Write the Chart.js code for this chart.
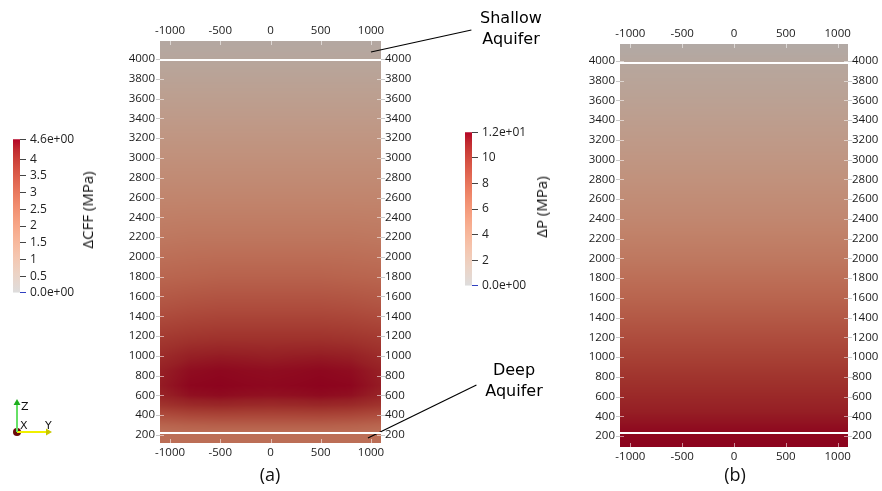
<!DOCTYPE html>
<html>
<head>
<meta charset="utf-8">
<script src="https://cdn.jsdelivr.net/npm/chart.js@4.4.1/dist/chart.umd.min.js"></script>
<style>
  body { margin: 0; background: #fff; }
  #page { position: relative; width: 882px; height: 491px; overflow: hidden; font-family: "Open Sans", sans-serif; }
  .box { position: absolute; }
  .txt { position: absolute; color: #111; white-space: nowrap; }
  .note { position: absolute; width: 120px; text-align: center; font-family: "DejaVu Sans", sans-serif; font-size: 16px; line-height: 21px; color: #000; }
  .vert { position: absolute; font-size: 15px; color: #111; white-space: nowrap; transform: translate(-50%, -50%) rotate(-90deg); }
</style>
</head>
<body>
<div id="page">
  <div class="box" style="left:120px;top:0;width:362px;height:467px"><canvas id="panelA"></canvas></div>
  <div class="box" style="left:580px;top:14px;width:302px;height:456px"><canvas id="panelB"></canvas></div>
  <div class="box" style="left:0;top:128px;width:120px;height:176px"><canvas id="barA"></canvas></div>
  <div class="box" style="left:452px;top:121px;width:100px;height:176px"><canvas id="barB"></canvas></div>
  <div class="box" style="left:0;top:395px;width:60px;height:45px"><canvas id="triad"></canvas></div>

  <div class="vert" style="left:87px;top:210px">ΔCFF (MPa)</div>
  <div class="vert" style="left:541px;top:207px">ΔP (MPa)</div>
  <div class="note" style="left:451px;top:7px">Shallow<br>Aquifer</div>
  <div class="note" style="left:454px;top:359px">Deep<br>Aquifer</div>
  <div class="txt" style="left:250px;top:464px;width:40px;text-align:center;font-size:18px;line-height:20px">(a)</div>
  <div class="txt" style="left:715px;top:464px;width:40px;text-align:center;font-size:18px;line-height:20px">(b)</div>
</div>

<script>
// eixos (coordenadas do modelo, em metros)
const X_TICKS = [-1000, -500, 0, 500, 1000]
const Y_TICKS = [200, 400, 600, 800, 1000, 1200, 1400, 1600, 1800, 2000,
  2200, 2400, 2600, 2800, 3000, 3200, 3400, 3600, 3800, 4000]
const X_MIN = -1100
const X_MAX = 1100
const Y_RANGE_A = [119, 4182]
const Y_RANGE_B = [89, 4172]

// interfaces dos aquíferos (linhas brancas)
const AQUIFER_A = [3990, 220]
const AQUIFER_B = [3980, 230]

// painel (a): ΔCFF em MPa, linhas = profundidade, colunas = x
const X_A = [-1100, -800, -500, -250, 0, 250, 500, 800, 1100]
const DEPTH_A = [4182, 3990, 3800, 3400, 3000, 2600, 2200, 1800, 1500, 1200,
  1000, 850, 700, 600, 500, 400, 300, 240, 220, 119]
const CFF_A = [
  [0.35, 0.35, 0.35, 0.35, 0.35, 0.35, 0.35, 0.35, 0.35],
  [0.5, 0.5, 0.5, 0.5, 0.5, 0.5, 0.5, 0.5, 0.5],
  [0.7, 0.7, 0.7, 0.7, 0.7, 0.7, 0.7, 0.7, 0.7],
  [1.1, 1.1, 1.1, 1.1, 1.1, 1.1, 1.1, 1.1, 1.1],
  [1.5, 1.5, 1.5, 1.5, 1.5, 1.5, 1.5, 1.5, 1.5],
  [1.9, 1.9, 1.9, 1.9, 1.9, 1.9, 1.9, 1.9, 1.9],
  [2.3, 2.35, 2.35, 2.35, 2.35, 2.35, 2.35, 2.35, 2.3],
  [2.8, 2.85, 2.9, 2.9, 2.9, 2.9, 2.9, 2.85, 2.8],
  [3.25, 3.35, 3.4, 3.4, 3.4, 3.4, 3.4, 3.35, 3.25],
  [3.8, 3.9, 3.95, 3.95, 3.95, 3.95, 3.95, 3.9, 3.8],
  [4.1, 4.3, 4.35, 4.33, 4.3, 4.33, 4.35, 4.3, 4.1],
  [4.3, 4.5, 4.55, 4.52, 4.5, 4.52, 4.55, 4.5, 4.3],
  [4.35, 4.57, 4.6, 4.57, 4.55, 4.57, 4.6, 4.57, 4.35],
  [4.25, 4.47, 4.52, 4.48, 4.46, 4.48, 4.52, 4.47, 4.25],
  [3.95, 4.12, 4.18, 4.14, 4.12, 4.14, 4.18, 4.12, 3.95],
  [3.4, 3.55, 3.6, 3.58, 3.57, 3.58, 3.6, 3.55, 3.4],
  [2.85, 2.95, 3.0, 3.0, 3.0, 3.0, 3.0, 2.95, 2.85],
  [2.6, 2.7, 2.7, 2.7, 2.7, 2.7, 2.7, 2.7, 2.6],
  [2.6, 2.6, 2.6, 2.6, 2.6, 2.6, 2.6, 2.6, 2.6],
  [2.6, 2.6, 2.6, 2.6, 2.6, 2.6, 2.6, 2.6, 2.6],
]

// painel (b): ΔP em MPa, só varia com a profundidade
const DEPTH_B = [4172, 3980, 3600, 3200, 2800, 2400, 2000, 1600, 1200, 800, 400, 230, 89]
const DP_B = [0.6, 1.2, 2.0, 2.9, 3.8, 4.8, 6.0, 7.4, 8.9, 10.3, 11.4, 11.9, 12.0]

// barras de cores
const CFF_MAX = 4.6
const CFF_BAR_TICKS = [0, 0.5, 1, 1.5, 2, 2.5, 3, 3.5, 4, 4.6]
const CFF_BAR_LABELS = ["0.0e+00", "0.5", "1", "1.5", "2", "2.5", "3", "3.5", "4", "4.6e+00"]
const DP_MAX = 12
const DP_BAR_TICKS = [0, 2, 4, 6, 8, 10, 12]
const DP_BAR_LABELS = ["0.0e+00", "2", "4", "6", "8", "10", "1.2e+01"]

// metade quente do mapa "Cool to Warm"
const CMAP_T = [0, 0.0625, 0.125, 0.1875, 0.25, 0.3125, 0.375, 0.4375, 0.5,
  0.5625, 0.625, 0.6875, 0.75, 0.8125, 0.875, 0.9375, 1]
const CMAP_RGB = [[221, 221, 221], [229, 216, 209], [236, 211, 197], [241, 204, 185],
  [245, 196, 173], [247, 187, 160], [247, 177, 148], [247, 166, 135], [244, 154, 123],
  [241, 141, 111], [236, 127, 99], [229, 112, 88], [222, 96, 77], [213, 80, 66],
  [203, 62, 56], [192, 40, 47], [180, 4, 38]]
const SHADE = 0.78 // escurecimento da iluminação da cena 3D

const tickFont = { family: "'Open Sans', sans-serif", size: 11.5 }

function clamp01(v) {
  return Math.max(0, Math.min(1, v))
}

function colorAt(t) {
  t = clamp01(t)
  let i = 0
  while (i < CMAP_T.length - 2 && t > CMAP_T[i + 1]) i++
  const f = (t - CMAP_T[i]) / (CMAP_T[i + 1] - CMAP_T[i])
  const a = CMAP_RGB[i], b = CMAP_RGB[i + 1]
  return [a[0] + (b[0] - a[0]) * f, a[1] + (b[1] - a[1]) * f, a[2] + (b[2] - a[2]) * f]
}

// pinta o campo escalar dentro da área do gráfico, pixel a pixel, via escalas
function fieldPlugin(xs, ys, grid, vmax) {
  return {
    id: "field",
    beforeDatasetsDraw(chart) {
      const area = chart.chartArea
      const sx = chart.scales.x
      const sy = chart.scales.y
      const x0 = Math.round(area.left)
      const y0 = Math.round(area.top)
      const w = Math.round(area.right) - x0
      const h = Math.round(area.bottom) - y0
      const img = chart.ctx.createImageData(w, h)
      for (let j = 0; j < h; j++) {
        const yv = sy.getValueForPixel(y0 + j + 0.5)
        let r = 0
        while (r < ys.length - 2 && yv < ys[r + 1]) r++
        const fy = clamp01((ys[r] - yv) / (ys[r] - ys[r + 1]))
        for (let i = 0; i < w; i++) {
          const xv = sx.getValueForPixel(x0 + i + 0.5)
          let c = 0
          while (c < xs.length - 2 && xv > xs[c + 1]) c++
          const fx = clamp01((xv - xs[c]) / (xs[c + 1] - xs[c]))
          const top = grid[r][c] * (1 - fx) + grid[r][c + 1] * fx
          const bot = grid[r + 1][c] * (1 - fx) + grid[r + 1][c + 1] * fx
          const col = colorAt((top * (1 - fy) + bot * fy) / vmax)
          const k = (j * w + i) * 4
          img.data[k] = col[0] * SHADE
          img.data[k + 1] = col[1] * SHADE
          img.data[k + 2] = col[2] * SHADE
          img.data[k + 3] = 255
        }
      }
      chart.ctx.putImageData(img, x0, y0)
    },
  }
}

// marcas curtas dos ticks nas bordas do domínio
const tickMarks = {
  id: "tickMarks",
  afterDatasetsDraw(chart) {
    const ctx = chart.ctx
    const a = chart.chartArea
    ctx.save()
    ctx.lineWidth = 1
    ctx.strokeStyle = "rgba(255,255,255,0.55)"
    ctx.beginPath()
    chart.scales.x.ticks.forEach((t) => {
      const px = Math.round(chart.scales.x.getPixelForValue(t.value)) + 0.5
      ctx.moveTo(px, a.bottom)
      ctx.lineTo(px, a.bottom - 4)
      ctx.moveTo(px, a.top)
      ctx.lineTo(px, a.top + 4)
    })
    chart.scales.y.ticks.forEach((t) => {
      const py = Math.round(chart.scales.y.getPixelForValue(t.value)) + 0.5
      ctx.moveTo(a.left, py)
      ctx.lineTo(a.left + 4, py)
      ctx.moveTo(a.right, py)
      ctx.lineTo(a.right - 4, py)
    })
    ctx.stroke()
    ctx.strokeStyle = "#c8c8c8"
    ctx.beginPath()
    chart.scales.y.ticks.forEach((t) => {
      const py = Math.round(chart.scales.y.getPixelForValue(t.value)) + 0.5
      ctx.moveTo(a.left - 4, py)
      ctx.lineTo(a.left, py)
      ctx.moveTo(a.right, py)
      ctx.lineTo(a.right + 4, py)
    })
    ctx.stroke()
    ctx.restore()
  },
}

function hLine(y) {
  return {
    data: [{ x: X_MIN, y: y }, { x: X_MAX, y: y }],
    showLine: true,
    borderColor: "#ffffff",
    borderWidth: 2,
    pointRadius: 0,
  }
}

function pointer(x1, y1, x2, y2) {
  return {
    data: [{ x: x1, y: y1 }, { x: x2, y: y2 }],
    showLine: true,
    borderColor: "#000000",
    borderWidth: 1.2,
    pointRadius: 0,
    clip: false,
  }
}

function panelScales(yRange, sizes) {
  const common = {
    type: "linear",
    grid: { display: false, drawTicks: false },
    border: { display: false },
  }
  const xTicks = {
    autoSkip: false,
    maxRotation: 0,
    padding: 3,
    font: tickFont,
    color: "#1a1a1a",
    callback: (v) => String(v),
  }
  const yTicks = { ...xTicks, padding: 5 }
  return {
    x: { ...common, position: "bottom", min: X_MIN, max: X_MAX, ticks: xTicks,
      afterBuildTicks: (s) => { s.ticks = X_TICKS.map((v) => ({ value: v })) },
      afterFit: (s) => { s.height = sizes.bottom } },
    xTop: { ...common, position: "top", min: X_MIN, max: X_MAX, ticks: xTicks,
      afterBuildTicks: (s) => { s.ticks = X_TICKS.map((v) => ({ value: v })) },
      afterFit: (s) => { s.height = sizes.top } },
    y: { ...common, position: "left", min: yRange[0], max: yRange[1], ticks: yTicks,
      afterBuildTicks: (s) => { s.ticks = Y_TICKS.map((v) => ({ value: v })) },
      afterFit: (s) => { s.width = sizes.left } },
    yRight: { ...common, position: "right", min: yRange[0], max: yRange[1],
      ticks: { ...yTicks, padding: 4 },
      afterBuildTicks: (s) => { s.ticks = Y_TICKS.map((v) => ({ value: v })) },
      afterFit: (s) => { s.width = sizes.right } },
  }
}

const baseOptions = {
  animation: false,
  responsive: true,
  maintainAspectRatio: false,
  layout: { padding: 0 },
  plugins: { legend: { display: false }, tooltip: { enabled: false } },
}

// painel (a)
new Chart(document.getElementById("panelA"), {
  type: "scatter",
  data: {
    datasets: [
      hLine(AQUIFER_A[0]),
      hLine(AQUIFER_A[1]),
      pointer(1000, 4071, 2000, 4293),
      pointer(970, 170, 2050, 705),
    ],
  },
  options: {
    ...baseOptions,
    scales: panelScales(Y_RANGE_A, { top: 41, bottom: 24, left: 40, right: 101 }),
  },
  plugins: [fieldPlugin(X_A, DEPTH_A, CFF_A, CFF_MAX), tickMarks],
})

// painel (b)
new Chart(document.getElementById("panelB"), {
  type: "scatter",
  data: {
    datasets: [hLine(AQUIFER_B[0]), hLine(AQUIFER_B[1])],
  },
  options: {
    ...baseOptions,
    scales: panelScales(Y_RANGE_B, { top: 30, bottom: 23, left: 40, right: 34 }),
  },
  plugins: [fieldPlugin([X_MIN, X_MAX], DEPTH_B, DP_B.map((v) => [v, v]), DP_MAX), tickMarks],
})

// barras de cores
function barGradient(chart) {
  const a = chart.chartArea
  if (!a) return null
  const g = chart.ctx.createLinearGradient(0, a.bottom, 0, a.top)
  CMAP_T.forEach((t, i) => {
    const c = CMAP_RGB[i]
    g.addColorStop(t, `rgb(${c[0]},${c[1]},${c[2]})`)
  })
  return g
}

function colorbar(id, vmax, ticks, labels, axisWidth) {
  new Chart(document.getElementById(id), {
    type: "bar",
    data: {
      labels: [""],
      datasets: [{
        data: [[0, vmax]],
        backgroundColor: (c) => barGradient(c.chart),
        barPercentage: 1,
        categoryPercentage: 1,
        borderWidth: 0,
      }],
    },
    options: {
      ...baseOptions,
      layout: { padding: { left: 13, top: 10, bottom: 10, right: 0 } },
      scales: {
        x: { display: false },
        y: {
          position: "right",
          min: 0,
          max: vmax,
          afterBuildTicks: (s) => { s.ticks = ticks.map((v) => ({ value: v })) },
          afterFit: (s) => { s.width = axisWidth },
          grid: {
            drawOnChartArea: false,
            drawTicks: true,
            tickLength: 6,
            color: (c) => (c.tick && c.tick.value === 0 ? "#3040c0" : "#444"),
          },
          border: { display: false },
          ticks: {
            autoSkip: false,
            padding: 4,
            font: { family: "'Open Sans', sans-serif", size: 12 },
            color: "#222",
            callback: (v, i) => labels[i],
          },
        },
      },
    },
  })
}

colorbar("barA", CFF_MAX, CFF_BAR_TICKS, CFF_BAR_LABELS, 100)
colorbar("barB", DP_MAX, DP_BAR_TICKS, DP_BAR_LABELS, 80)

// triedro de orientação
const triadLabels = {
  id: "triadLabels",
  afterDatasetsDraw(chart) {
    const ctx = chart.ctx
    const sx = chart.scales.x
    const sy = chart.scales.y
    ctx.save()
    ctx.fillStyle = "#111"
    ctx.font = "11px 'DejaVu Sans', sans-serif"
    ctx.textBaseline = "middle"
    ctx.fillText("Z", sx.getPixelForValue(0) + 4, sy.getPixelForValue(1) + 4)
    ctx.fillText("X", sx.getPixelForValue(0) + 3, sy.getPixelForValue(0) - 6)
    ctx.fillText("Y", sx.getPixelForValue(1) - 3, sy.getPixelForValue(0) - 6)
    ctx.restore()
  },
}

new Chart(document.getElementById("triad"), {
  type: "scatter",
  data: {
    datasets: [
      { data: [{ x: 0, y: 0 }, { x: 0, y: 1 }], showLine: true, borderColor: "#66e066", borderWidth: 2,
        pointRadius: [0, 4], pointStyle: "triangle", pointBackgroundColor: "#1fae1f", pointBorderWidth: 0, clip: false },
      { data: [{ x: 0, y: 0 }, { x: 1, y: 0 }], showLine: true, borderColor: "#f0f000", borderWidth: 2,
        pointRadius: [0, 4], pointStyle: "triangle", pointRotation: 90, pointBackgroundColor: "#c8c800", pointBorderWidth: 0, clip: false },
      { data: [{ x: 0, y: 0 }], pointRadius: 4, pointBackgroundColor: "#6a0a0a", pointBorderWidth: 0, clip: false },
    ],
  },
  options: {
    ...baseOptions,
    layout: { padding: { left: 17, top: 8, bottom: 8, right: 12 } },
    scales: {
      x: { display: false, min: 0, max: 1 },
      y: { display: false, min: 0, max: 1 },
    },
  },
  plugins: [triadLabels],
})
</script>
</body>
</html>
